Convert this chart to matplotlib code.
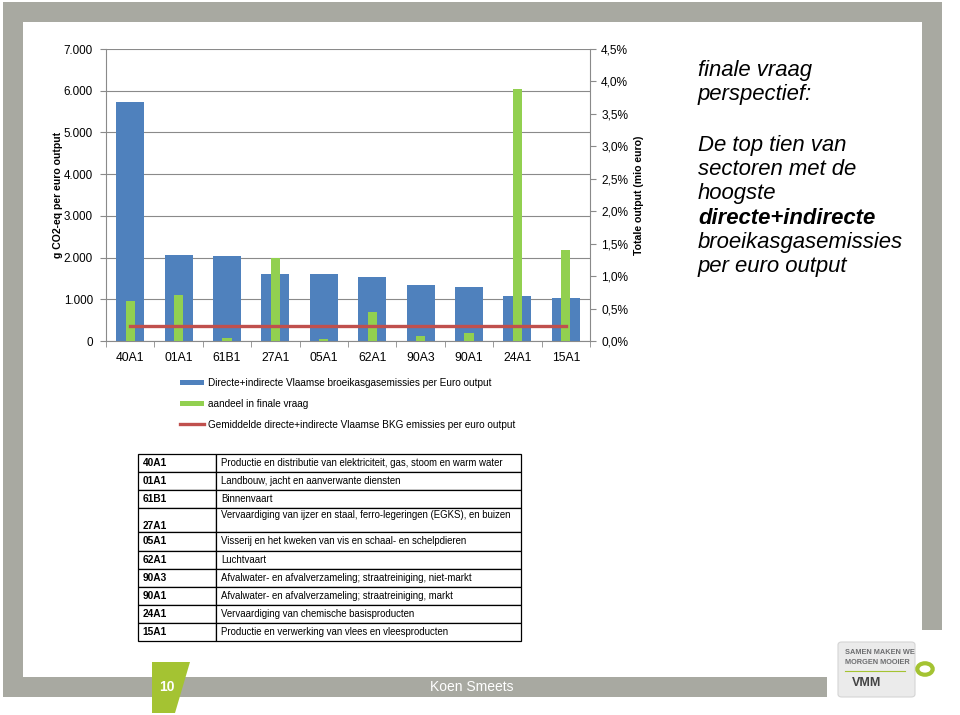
import numpy as np
import matplotlib
matplotlib.use('Agg')
import matplotlib.pyplot as plt
from matplotlib.ticker import FuncFormatter, MultipleLocator, FixedLocator
from matplotlib.patches import Rectangle, Polygon, FancyBboxPatch, Circle

plt.rcParams['font.family'] = ['Liberation Sans', 'DejaVu Sans']

# data
sectors = ['40A1', '01A1', '61B1', '27A1', '05A1', '62A1', '90A3', '90A1', '24A1', '15A1']
emissions = [5740, 2050, 2030, 1615, 1600, 1535, 1345, 1300, 1090, 1040]   # g CO2-eq per euro output
share_final = [0.61, 0.71, 0.04, 1.28, 0.03, 0.45, 0.07, 0.12, 3.88, 1.40]  # % of final demand
avg_emission = 360
descriptions = [
    'Productie en distributie van elektriciteit, gas, stoom en warm water',
    'Landbouw, jacht en aanverwante diensten',
    'Binnenvaart',
    'Vervaardiging van ijzer en staal, ferro-legeringen (EGKS), en buizen',
    'Visserij en het kweken van vis en schaal- en schelpdieren',
    'Luchtvaart',
    'Afvalwater- en afvalverzameling; straatreiniging, niet-markt',
    'Afvalwater- en afvalverzameling; straatreiniging, markt',
    'Vervaardiging van chemische basisproducten',
    'Productie en verwerking van vlees en vleesproducten',
]
legend_labels = ['Directe+indirecte Vlaamse broeikasgasemissies per Euro output',
                 'aandeel in finale vraag',
                 'Gemiddelde directe+indirecte Vlaamse BKG emissies per euro output']

blue = '#4f81bd'
green = '#92d050'
red = '#c0504d'
axis_grey = '#8a8a8a'
frame_grey = '#a8a9a1'
lime = '#a4c332'

W, H = 960, 715
def fx(px):
    return px / W
def fy(py):
    return 1 - py / H

fig = plt.figure(figsize=(9.6, 7.15), dpi=100)

# slide frame
for x0, y0, x1, y1 in [(3, 2, 942, 22), (3, 2, 23, 697), (922, 2, 942, 630), (3, 677, 827, 697)]:
    fig.add_artist(Rectangle((fx(x0), fy(y1)), fx(x1) - fx(x0), fy(y0) - fy(y1),
                             transform=fig.transFigure, color=frame_grey, lw=0))
fig.add_artist(Polygon([(fx(152), fy(662)), (fx(190), fy(662)), (fx(175), fy(713)), (fx(152), fy(713))],
                       closed=True, transform=fig.transFigure, color=lime, lw=0))
fig.text(fx(167), fy(687), '10', color='white', fontsize=10, fontweight='bold', ha='center', va='center')
fig.text(fx(472), fy(687), 'Koen Smeets', color='white', fontsize=10, ha='center', va='center')

# logo tag
fig.add_artist(FancyBboxPatch((fx(838), fy(697)), fx(915) - fx(838), fy(642) - fy(697),
                              boxstyle='round,pad=0,rounding_size=0.004', transform=fig.transFigure,
                              facecolor='#ebebeb', edgecolor='#d4d4d4', lw=0.8))
fig.text(fx(845), fy(653), 'SAMEN MAKEN WE', color='#6d6e70', fontsize=5.3, fontweight='bold', va='center')
fig.text(fx(845), fy(662), 'MORGEN MOOIER', color='#6d6e70', fontsize=5.3, fontweight='bold', va='center')
fig.add_artist(plt.Line2D([fx(845), fx(905)], [fy(671), fy(671)], transform=fig.transFigure,
                          color=lime, lw=0.8))
fig.text(fx(852), fy(683), 'VMM', color='#444444', fontsize=9, fontweight='bold', va='center')
fig.add_artist(Circle((fx(925), fy(669)), 0.008, transform=fig.transFigure,
                      facecolor='none', edgecolor=lime, lw=3))

# main chart
x = np.arange(len(sectors))
ax = fig.add_axes([fx(106), fy(341), fx(590) - fx(106), fy(49) - fy(341)])
bars1 = ax.bar(x, emissions, width=0.58, color=blue, zorder=2)
ax.set_xlim(-0.5, len(sectors) - 0.5)
ax.set_ylim(0, 7000)
ax.yaxis.set_major_locator(MultipleLocator(1000))
ax.yaxis.set_major_formatter(FuncFormatter(lambda v, p: f'{int(v):,}'.replace(',', '.')))
ax.grid(axis='y', color=axis_grey, lw=0.8)
ax.set_axisbelow(True)
ax.set_xticks(x, sectors)
ax.xaxis.set_minor_locator(FixedLocator(np.arange(-0.5, len(sectors), 1)))
ax.tick_params(axis='x', which='major', length=0, labelsize=8.7, pad=8)
ax.tick_params(axis='x', which='minor', length=4, color=axis_grey)
ax.tick_params(axis='y', length=4, color=axis_grey, labelsize=8.4, pad=5.5)
for s in ['top', 'right']:
    ax.spines[s].set_visible(False)
for s in ['left', 'bottom']:
    ax.spines[s].set_color(axis_grey)
ax.set_ylabel('g CO2-eq per euro output', fontsize=7.6, fontweight='bold')
ax.yaxis.set_label_coords((63 - 106) / 484, 0.5)

ax2 = ax.twinx()
bars2 = ax2.bar(x, share_final, width=0.19, color=green, zorder=2)
line, = ax2.plot(x, [avg_emission] * len(x), color=red, lw=2.4, transform=ax.transData, zorder=3)
ax2.set_ylim(0, 4.5)
ax2.yaxis.set_major_locator(MultipleLocator(0.5))
ax2.yaxis.set_major_formatter(FuncFormatter(lambda v, p: f'{v:.1f}%'.replace('.', ',')))
ax2.tick_params(axis='y', length=4, color=axis_grey, labelsize=8.6, pad=4)
for s in ['top', 'left', 'bottom']:
    ax2.spines[s].set_visible(False)
ax2.spines['right'].set_color(axis_grey)
ax2.set_ylabel('Totale output (mio euro)', fontsize=7.6, fontweight='bold', rotation=90)
ax2.yaxis.set_label_coords((634 - 106) / 484, 0.5)

fig.legend([bars1, bars2, line], legend_labels, loc='upper left',
           bbox_to_anchor=(fx(180), fy(378)), frameon=False, fontsize=7.2,
           handlelength=2.4, handleheight=0.45, handletextpad=0.4, labelspacing=1.08,
           borderpad=0, borderaxespad=0)

# right-hand text block
lines = [('finale vraag', 76, 'normal'), ('perspectief:', 100, 'normal'),
         ('De top tien van', 151, 'normal'), ('sectoren met de', 175, 'normal'),
         ('hoogste', 199, 'normal'), ('directe+indirecte', 224, 'bold'),
         ('broeikasgasemissies', 248, 'normal'), ('per euro output', 272, 'normal')]
for txt, yb, wt in lines:
    fig.text(fx(698), fy(yb), txt, fontsize=15.9, style='italic', fontweight=wt, va='baseline')

# sector table
tall_rows = {'27A1'}
rows = []
for code, desc in zip(sectors, descriptions):
    if code in tall_rows:
        rows.append(['\n' + code, desc + '\n'])
    else:
        rows.append([code, desc])
tax = fig.add_axes([fx(138), fy(641), fx(521) - fx(138), fy(454) - fy(641)])
tax.axis('off')
tab = tax.table(cellText=rows, colWidths=[78, 305], cellLoc='left', bbox=[0, 0, 1, 1])
tab.auto_set_font_size(False)
for (r, c), cell in tab.get_celld().items():
    cell.set_height(24 if sectors[r] in tall_rows else 18)
    cell.set_edgecolor('black')
    cell.set_linewidth(0.9)
    cell.PAD = 0.06 if c == 0 else 0.016
    cell.get_text().set_fontsize(7.3 if c == 0 else 6.95)
    if c == 0:
        cell.get_text().set_fontweight('bold')

plt.savefig('out.png', dpi=100)
